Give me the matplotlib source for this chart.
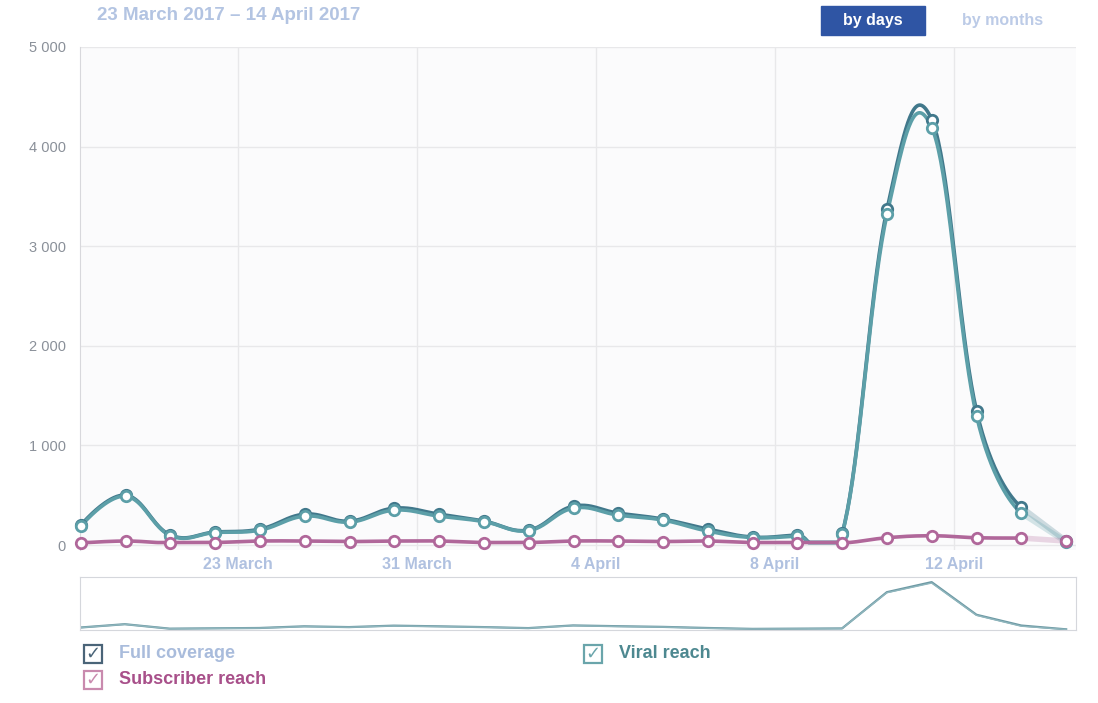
import numpy as np
import matplotlib
matplotlib.use('Agg')
from matplotlib import pyplot as plt
from matplotlib.patches import Rectangle

# Daily values, 23 March 2017 - 14 April 2017
dates = ['23 Mar', '24 Mar', '25 Mar', '26 Mar', '27 Mar', '28 Mar', '29 Mar', '30 Mar',
         '31 Mar', '1 Apr', '2 Apr', '3 Apr', '4 Apr', '5 Apr', '6 Apr', '7 Apr',
         '8 Apr', '9 Apr', '10 Apr', '11 Apr', '12 Apr', '13 Apr', '14 Apr']
full_coverage = [200, 500, 100, 130, 160, 310, 240, 370, 310, 240, 150, 390, 320, 260,
                 160, 80, 100, 120, 3370, 4270, 1345, 380, 40]
viral_reach = [190, 490, 95, 125, 150, 290, 230, 350, 290, 235, 145, 370, 300, 250,
               140, 75, 90, 115, 3320, 4190, 1295, 320, 30]
subscriber_reach = [20, 40, 20, 25, 40, 40, 35, 40, 40, 25, 25, 40, 40, 35,
                    40, 25, 25, 20, 73, 93, 73, 70, 40]
tick_labels = ['23 March', '31 March', '4 April', '8 April', '12 April']
tick_pos = [3.5, 7.5, 11.5, 15.5, 19.5]
y_ticks = [0, 1000, 2000, 3000, 4000, 5000]
y_tick_labels = ['0', '1 000', '2 000', '3 000', '4 000', '5 000']

FONT = ['Liberation Sans', 'DejaVu Sans']
NARROW = ['Liberation Sans Narrow', 'Liberation Sans', 'DejaVu Sans']


# Highcharts-like spline: cubic bezier segments through every point
def spline(xs, ys, smoothing=1.5, steps=40):
    xs = np.asarray(xs, float)
    ys = np.asarray(ys, float)
    n = len(xs)
    denom = smoothing + 1
    lx, ly = xs.copy(), ys.copy()
    rx, ry = xs.copy(), ys.copy()
    for i in range(1, n - 1):
        lx[i] = (smoothing * xs[i] + xs[i - 1]) / denom
        ly[i] = (smoothing * ys[i] + ys[i - 1]) / denom
        rx[i] = (smoothing * xs[i] + xs[i + 1]) / denom
        ry[i] = (smoothing * ys[i] + ys[i + 1]) / denom
        corr = (ry[i] - ly[i]) * (rx[i] - xs[i]) / (rx[i] - lx[i]) + ys[i] - ry[i]
        ly[i] += corr
        ry[i] += corr
    t = np.linspace(0, 1, steps)[:, None]
    out_x, out_y = [], []
    for i in range(1, n):
        p = np.array([[xs[i - 1], ys[i - 1]], [rx[i - 1], ry[i - 1]],
                      [lx[i], ly[i]], [xs[i], ys[i]]])
        seg = ((1 - t) ** 3) * p[0] + 3 * ((1 - t) ** 2) * t * p[1] + \
            3 * (1 - t) * t ** 2 * p[2] + t ** 3 * p[3]
        out_x.extend(seg[:, 0])
        out_y.extend(seg[:, 1])
    # keep the small dip before the spike above the baseline
    return np.array(out_x), np.maximum(np.array(out_y), 25)


def main():
    fig = plt.figure(figsize=(10.98, 7.03), dpi=100)
    fig.patch.set_facecolor('white')
    W, H = 1098, 703

    # main chart area
    ax = fig.add_axes([80 / W, 1 - 550 / H, 996 / W, 503 / H])
    ax.set_facecolor('#fbfbfc')
    x = np.arange(len(dates))
    ax.set_xlim(-0.02, 22.22)
    ax.set_ylim(-50, 5000)
    for yv in y_ticks:
        ax.axhline(yv, color='#e8e8ea', lw=1, zorder=0)
    for xv in tick_pos:
        ax.axvline(xv, color='#e8e8ea', lw=1, zorder=0)

    series = [(full_coverage, '#41788b'), (viral_reach, '#5c9fa8'),
              (subscriber_reach, '#b0679a')]
    for vals, col in series:
        sx, sy = spline(x[:-1], vals[:-1])
        ax.plot(sx, sy, color=col, lw=2.6, zorder=3, solid_capstyle='round')
        ax.plot(x[-2:], vals[-2:], color=col, lw=4, alpha=0.25, zorder=2)
        ax.plot(x, vals, 'o', ms=7.5, mfc='white', mec=col, mew=2, zorder=4, clip_on=False)

    ax.set_yticks(y_ticks)
    ax.set_yticklabels(y_tick_labels, family=FONT, fontsize=10.5, color='#8a9099')
    ax.set_xticks(tick_pos)
    ax.set_xticklabels(tick_labels, family=FONT, fontsize=11.5, fontweight='bold', color='#b0c1e0')
    ax.tick_params(length=0, pad=5)
    ax.tick_params(axis='y', pad=10)
    for s in ['top', 'right', 'bottom']:
        ax.spines[s].set_visible(False)
    ax.spines['left'].set_color('#d8d8dc')

    # navigator below
    nav = fig.add_axes([80 / W, 1 - 630 / H, 996 / W, 53 / H])
    nav.set_xlim(0, 22.22)
    nav.set_ylim(-20, 4730)
    nav.plot(x, full_coverage, color='#6d99a4', lw=1.6)
    nav.plot(x, viral_reach, color='#8fb6bd', lw=1.0)
    nav.set_xticks([])
    nav.set_yticks([])
    for s in nav.spines.values():
        s.set_color('#d5d7dc')

    # header
    fig.text(97 / W, 1 - 16 / H, '23 March 2017 \u2013 14 April 2017', family=FONT,
             fontsize=13.5, fontweight='bold', color='#b3c4e2', va='center')
    fig.patches.append(Rectangle((821 / W, 1 - 35 / H), 104 / W, 29 / H,
                                 transform=fig.transFigure, color='#2f55a4'))
    fig.text(873 / W, 1 - 20 / H, 'by days', family=FONT, fontsize=11.5,
             fontweight='bold', color='white', ha='center', va='center')
    fig.text(1003 / W, 1 - 20 / H, 'by months', family=FONT, fontsize=11.5,
             fontweight='bold', color='#bccbe7', ha='center', va='center')

    # legend with checkboxes
    legend = [(93, 654, 'Full coverage', '#a9bcdc', '#4a6478'),
              (93, 680, 'Subscriber reach', '#a8508a', '#c98aae'),
              (593, 654, 'Viral reach', '#4d8890', '#6aa5ab')]
    for lx, ly, label, tcol, bcol in legend:
        fig.patches.append(Rectangle(((lx - 9) / W, 1 - (ly + 9) / H), 18 / W, 18 / H,
                                     transform=fig.transFigure, fill=False,
                                     edgecolor=bcol, lw=1.6))
        fig.text(lx / W, 1 - ly / H, '\u2713', family=['DejaVu Sans'], fontsize=13,
                 color=bcol, ha='center', va='center')
        fig.text((lx + 26) / W, 1 - ly / H, label, family=NARROW, fontsize=13,
                 fontweight='bold', color=tcol, va='center')

    plt.savefig('out.png', dpi=100)


if __name__ == '__main__':
    main()
